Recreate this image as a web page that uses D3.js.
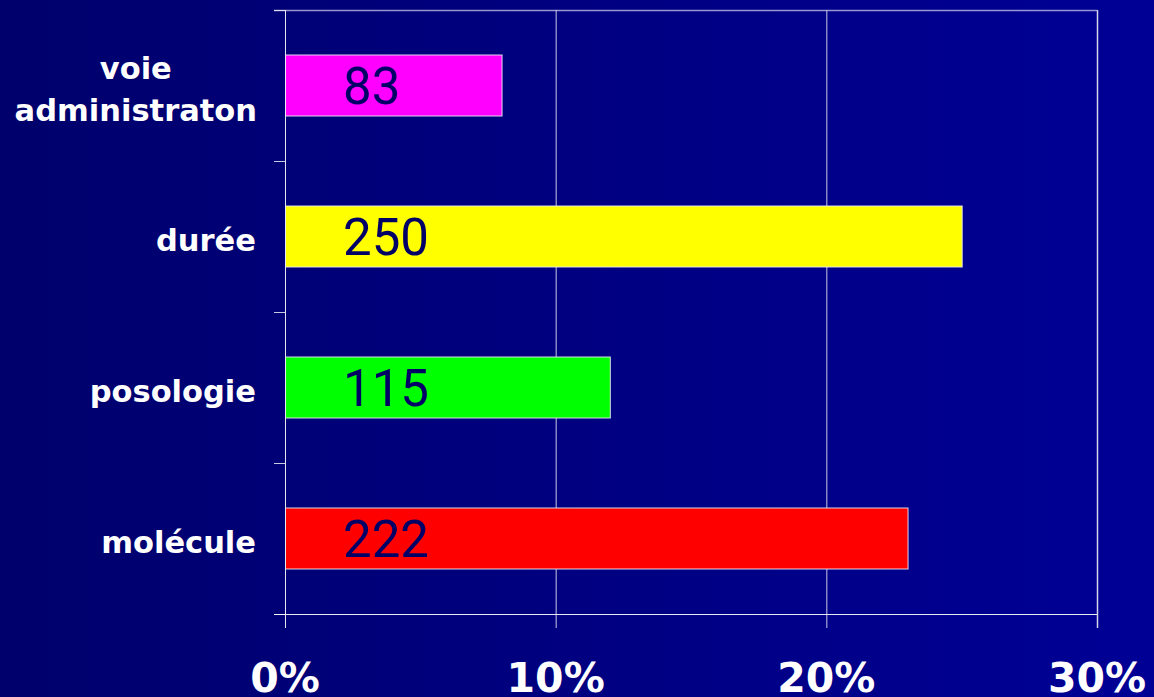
<!DOCTYPE html>
<html>
<head>
<meta charset="utf-8">
<script src="https://cdn.jsdelivr.net/npm/d3@7/dist/d3.min.js"></script>
<style>
  html, body { margin: 0; padding: 0; background: #000070; }
  svg { display: block; }
</style>
</head>
<body>
<svg id="chart" width="1154" height="697"></svg>
<script>
// ---- data ----
const categories = ["voie administraton", "durée", "posologie", "molécule"];
const percents   = [8, 25, 12, 23];
const counts     = ["83", "250", "115", "222"];
const barColors  = ["#ff00ff", "#ffff00", "#00ff00", "#ff0000"];
const xTicks     = [0, 10, 20, 30];
const xTickLabels = ["0%", "10%", "20%", "30%"];

(function () {
// ---- layout ----
const W = 1154, H = 697;
const pLeft = 285, pRight = 1097, pTop = 10, pBottom = 614;

const svg = d3.select("#chart");
const defs = svg.append("defs");
const grad = defs.append("linearGradient").attr("id", "bg").attr("x1", "0").attr("x2", "1").attr("y1", "0").attr("y2", "0");
grad.append("stop").attr("offset", "0%").attr("stop-color", "#00006c");
grad.append("stop").attr("offset", "100%").attr("stop-color", "#000095");
svg.append("rect").attr("width", W).attr("height", H).attr("fill", "url(#bg)");

const x = d3.scaleLinear().domain([0, 30]).range([pLeft, pRight]);
const y = d3.scaleBand().domain(categories).range([pTop, pBottom]).paddingInner(0.596).paddingOuter(0.298);
const step = (pBottom - pTop) / categories.length;

const lineColor = "rgba(235,235,245,0.85)";

// vertical gridlines (incl. right border) + ticks below axis
svg.append("g").selectAll("line").data(xTicks).join("line")
  .attr("x1", d => x(d) + 0.5).attr("x2", d => x(d) + 0.5)
  .attr("y1", pTop).attr("y2", pBottom + 14)
  .attr("stroke", d => d === 30 ? "rgba(235,235,245,0.9)" : lineColor)
  .attr("stroke-width", d => d === 30 ? 1.5 : 1);

// top border
svg.append("line").attr("x1", pLeft - 11).attr("x2", pRight).attr("y1", pTop + 0.5).attr("y2", pTop + 0.5)
  .attr("stroke", "rgba(200,200,235,0.75)").attr("stroke-width", 1.5);

// left ticks at category boundaries
const yBounds = d3.range(categories.length + 1).map(i => pTop + i * step);
svg.append("g").selectAll("line").data(yBounds).join("line")
  .attr("x1", pLeft - 11).attr("x2", pLeft)
  .attr("y1", d => Math.round(d) + 0.5).attr("y2", d => Math.round(d) + 0.5)
  .attr("stroke", lineColor);

// bottom axis line
svg.append("line").attr("x1", pLeft - 11).attr("x2", pRight).attr("y1", pBottom + 0.5).attr("y2", pBottom + 0.5)
  .attr("stroke", "rgba(245,245,250,0.95)").attr("stroke-width", 1.2);

// bars
svg.append("g").selectAll("rect").data(categories).join("rect")
  .attr("x", x(0) + 0.5)
  .attr("y", d => y(d))
  .attr("width", (d, i) => x(percents[i]) - x(0))
  .attr("height", y.bandwidth())
  .attr("fill", (d, i) => barColors[i])
  .attr("stroke", "rgba(235,235,245,0.9)")
  .attr("stroke-width", 1);

// left axis line
svg.append("line").attr("x1", pLeft + 0.5).attr("x2", pLeft + 0.5).attr("y1", pTop).attr("y2", pBottom + 14)
  .attr("stroke", lineColor);

// count labels inside bars
svg.append("g").selectAll("text").data(categories).join("text")
  .attr("x", x(0) + 58)
  .attr("y", (d, i) => y(d) + y.bandwidth() / 2 + 18)
  .attr("font-family", "Roboto, 'Liberation Sans', Arial, sans-serif")
  .attr("font-weight", 400)
  .attr("font-size", 51)
  .attr("fill", "#000066")
  .text((d, i) => counts[i]);

// category labels
const catFont = "'DejaVu Sans', Verdana, sans-serif";
categories.forEach((c, i) => {
  const cy = y(c) + y.bandwidth() / 2;
  let lines = [c];
  if (c === "voie administraton") lines = ["voie", "administraton"];
  const g = svg.append("g");
  const lh = 42;
  const t = g.selectAll("text").data(lines).join("text")
    .attr("font-family", catFont).attr("font-weight", "bold").attr("font-size", 30.5)
    .attr("fill", "#ffffff")
    .attr("y", (d, j) => cy + 14 + (j - (lines.length - 1) / 2) * lh)
    .text(d => d);
  if (lines.length === 1) {
    t.attr("x", 256).attr("text-anchor", "end");
  } else {
    let maxW = 0;
    t.each(function() { maxW = Math.max(maxW, this.getComputedTextLength()); });
    t.attr("x", 257 - maxW / 2).attr("text-anchor", "middle");
  }
});

// x tick labels
svg.append("g").selectAll("text").data(xTicks).join("text")
  .attr("x", d => x(d))
  .attr("y", 692)
  .attr("text-anchor", "middle")
  .attr("font-family", catFont).attr("font-weight", "bold").attr("font-size", 41)
  .attr("fill", "#ffffff")
  .text((d, i) => xTickLabels[i]);
})();
</script>
</body>
</html>
